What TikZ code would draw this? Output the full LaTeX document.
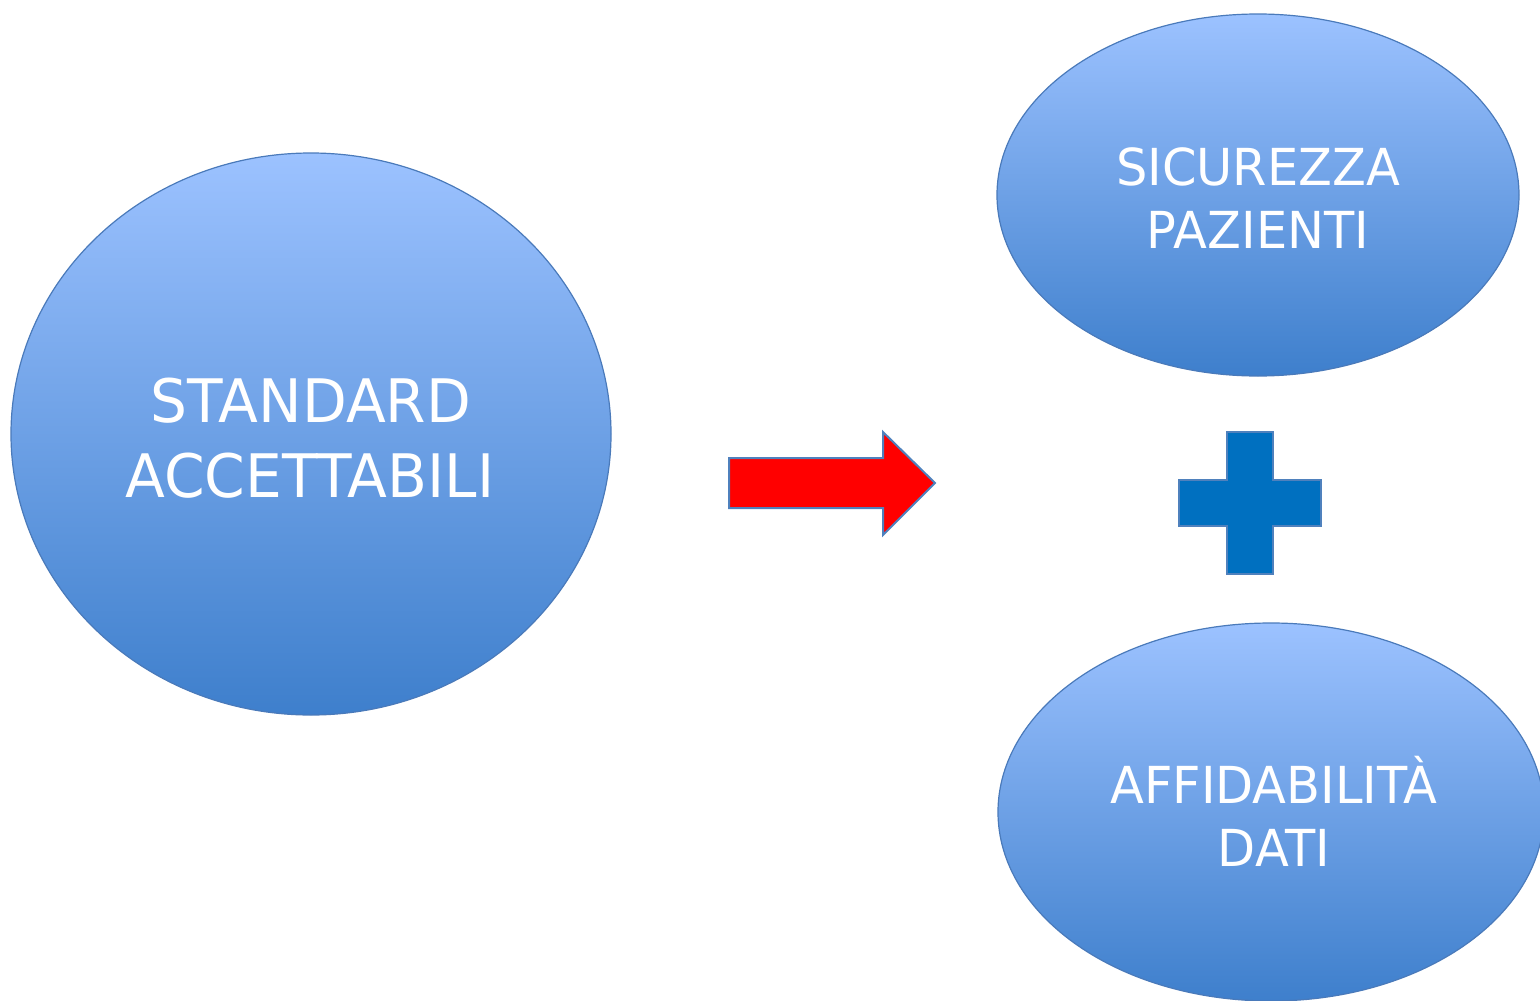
\documentclass[tikz,border=0pt]{standalone}
\usepackage{fontspec}
\setmainfont{DejaVu Sans}[FakeStretch=0.97]
\usetikzlibrary{shapes.geometric}
\definecolor{ellTop}{RGB}{156,194,255}
\definecolor{ellBot}{RGB}{62,127,204}
\definecolor{ellLine}{RGB}{74,122,186}
\definecolor{plusBlue}{RGB}{0,112,192}
\definecolor{shapeLine}{RGB}{79,129,189}
\tikzset{
  bubble/.style={ellipse, draw=ellLine, line width=1.2pt, top color=ellTop, bottom color=ellBot, inner sep=0pt},
  bigtxt/.style={text=white, anchor=base, inner sep=0pt, font=\fontsize{60}{75}\selectfont},
  smalltxt/.style={text=white, anchor=base, inner sep=0pt, font=\fontsize{51}{63}\selectfont},
  redarrow/.style={fill=red, draw=shapeLine, line width=2pt, line join=miter},
  plusshape/.style={fill=plusBlue, draw=shapeLine, line width=2pt, line join=miter}
}
\begin{document}
\begin{tikzpicture}[x=1pt,y=-1pt]
\useasboundingbox (0,0) rectangle (1540,1001);
\begin{scope}
\clip (0,0) rectangle (1540,1001);
% ellipses
\node[bubble, minimum width=600pt, minimum height=562pt] (std) at (311,434) {};
\node[bubble, minimum width=522pt, minimum height=362pt] (sic) at (1258,195) {};
\node[bubble, minimum width=546pt, minimum height=378pt] (aff) at (1271,812) {};
\end{scope}
% texts
\node[bigtxt] (t1) at (311,422) {STANDARD};
\node[bigtxt] (t2) at (310,497) {ACCETTABILI};
\node[smalltxt] (t3) at (1258,185) {SICUREZZA};
\node[smalltxt] (t4) at (1258,248) {PAZIENTI};
\node[smalltxt] (t5) at (1274,803) {AFFIDABILITÀ};
\node[smalltxt] (t6) at (1274,866) {DATI};
% red block arrow
\draw[redarrow] (729,458) -- (883,458) -- (883,432) -- (935,483) -- (883,535) -- (883,508) -- (729,508) -- cycle;
% plus sign
\draw[plusshape] (1227,432) -- (1273,432) -- (1273,480) -- (1321,480) -- (1321,526) -- (1273,526) -- (1273,574) -- (1227,574) -- (1227,526) -- (1179,526) -- (1179,480) -- (1227,480) -- cycle;
\end{tikzpicture}
\end{document}
